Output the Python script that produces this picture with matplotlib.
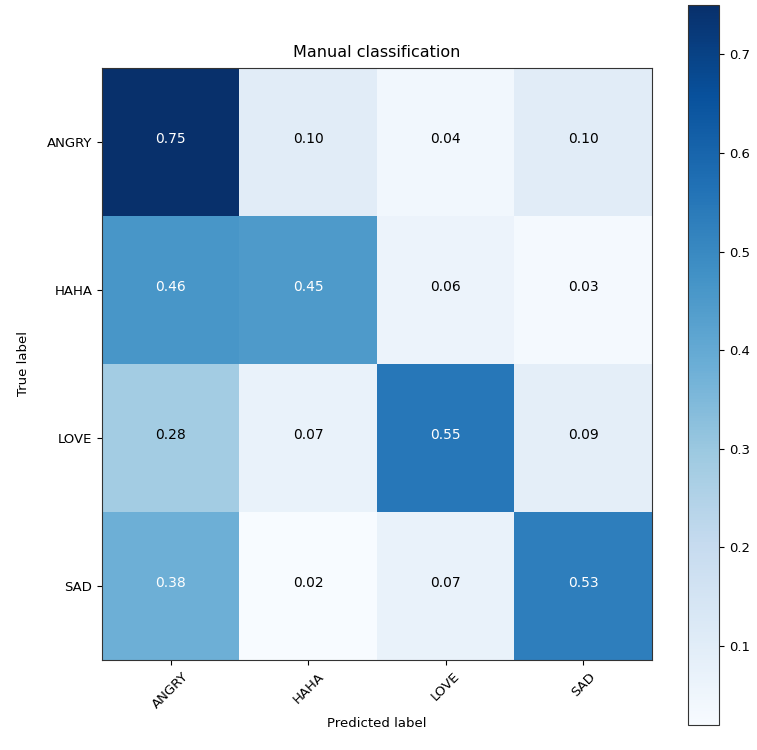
import matplotlib
matplotlib.use("Agg")
import matplotlib.pyplot as plt
import numpy as np

classes = ["ANGRY", "HAHA", "LOVE", "SAD"]
row_angry = [0.75, 0.10, 0.04, 0.10]
row_haha = [0.46, 0.45, 0.06, 0.03]
row_love = [0.28, 0.07, 0.55, 0.09]
row_sad = [0.38, 0.02, 0.07, 0.53]
title = "Manual classification"

cm = np.array([row_angry, row_haha, row_love, row_sad])

W, H = 757, 750
fig = plt.figure(figsize=(W / 100, H / 100), dpi=100)
ax = fig.add_axes([102 / W, 1 - 660 / H, 550 / W, 592 / H])
im = ax.imshow(cm, interpolation="nearest", cmap=plt.cm.Blues, aspect="auto")
ax.set_title(title, fontsize=11.5, pad=8)
for s in ax.spines.values():
    s.set_color("#333333")

ticks = np.arange(len(classes))
ax.set_xticks(ticks)
ax.set_xticklabels(classes, rotation=45, fontsize=9.5)
ax.set_yticks(ticks)
ax.set_yticklabels(classes, fontsize=9.5)
ax.set_ylabel("True label", fontsize=9.5, labelpad=12)
ax.set_xlabel("Predicted label", fontsize=9.5)

thresh = cm.max() / 2.0
for i in range(cm.shape[0]):
    for j in range(cm.shape[1]):
        ax.text(j, i - 0.02, f"{cm[i, j]:.2f}", ha="center", va="center", fontsize=10,
                color="white" if cm[i, j] > thresh else "black")

cax = fig.add_axes([688 / W, 1 - 725 / H, 31 / W, 720 / H])
cb = fig.colorbar(im, cax=cax)
cb.ax.tick_params(labelsize=9.5)
cb.outline.set_edgecolor("#333333")
cb.set_ticks([0.1, 0.2, 0.3, 0.4, 0.5, 0.6, 0.7])

fig.savefig("out.png", dpi=100)
